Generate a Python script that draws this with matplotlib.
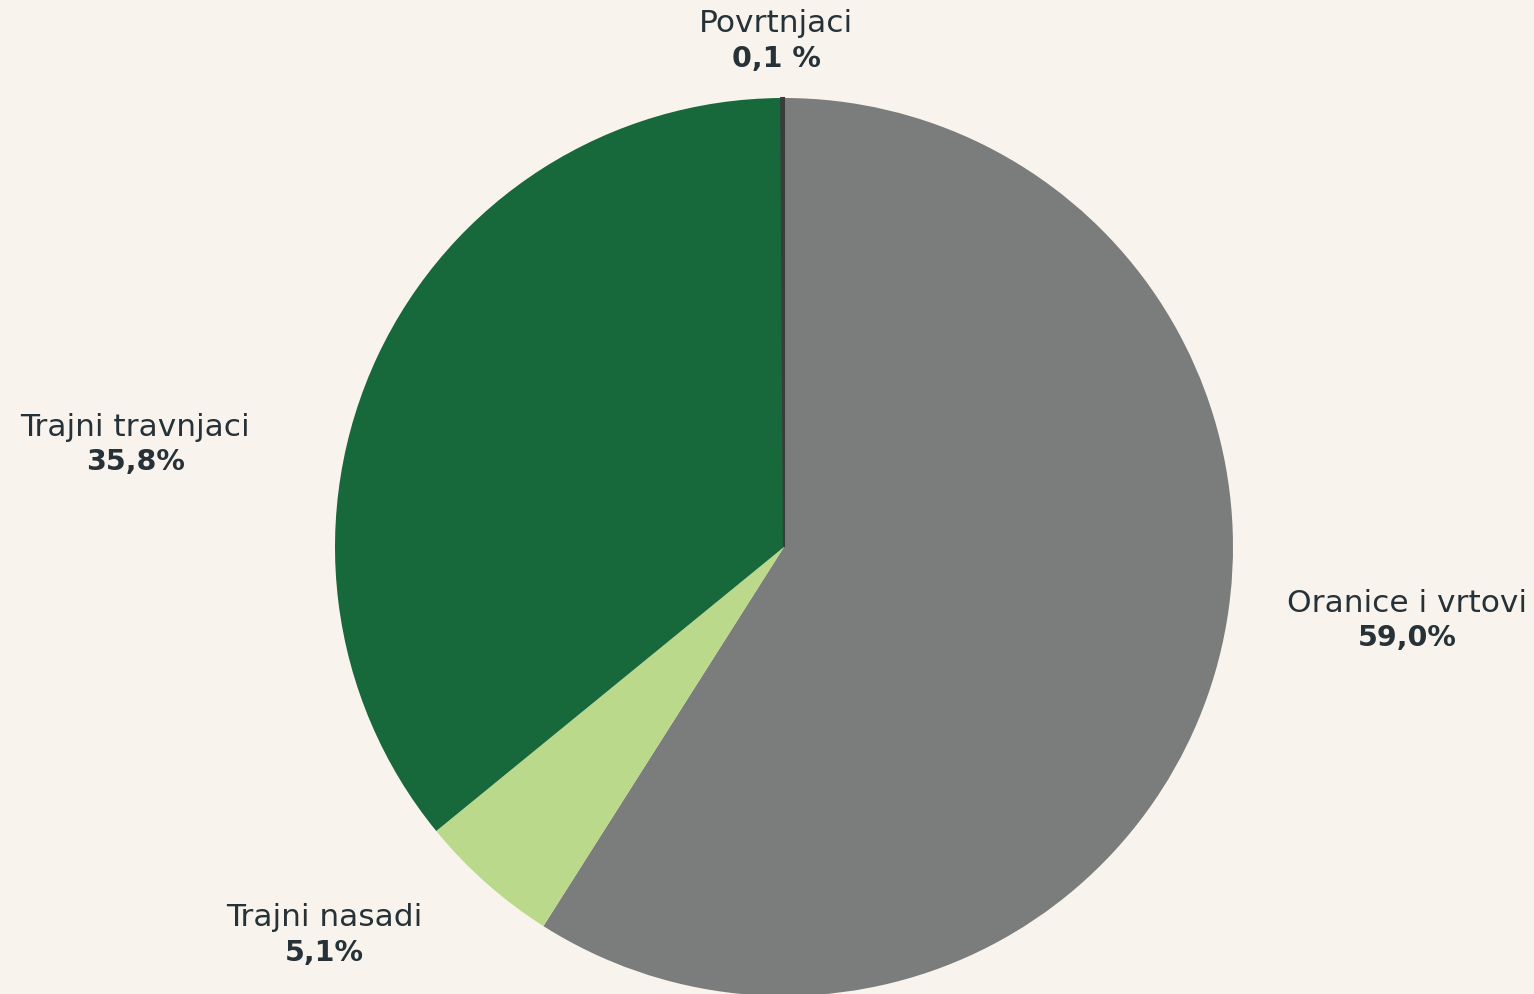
import matplotlib.pyplot as plt

# data
categories = ["Oranice i vrtovi", "Trajni nasadi", "Trajni travnjaci", "Povrtnjaci"]
shares = [59.0, 5.1, 35.8, 0.1]
value_labels = ["59,0%", "5,1%", "35,8%", "0,1 %"]
colors = ["#7b7d7d", "#bbd98a", "#17683a", "#3b3b3b"]

BG = "#f8f4ed"
TXT = "#263238"

plt.rcParams["font.family"] = ["DejaVu Sans"]

W, H = 1534, 994
fig = plt.figure(figsize=(W / 100, H / 100), dpi=100, facecolor=BG)
ax = fig.add_axes([0, 0, 1, 1])
ax.set_facecolor(BG)

wedges, _ = ax.pie(shares, colors=colors, startangle=90, counterclock=False,
                   center=(784, H - 547), radius=449,
                   wedgeprops=dict(linewidth=0))
# the tiny slice gets a thin outline so it stays visible
wedges[-1].set_edgecolor(colors[-1])
wedges[-1].set_linewidth(1.5)
ax.set_xlim(0, W)
ax.set_ylim(0, H)
ax.set_aspect("equal")
ax.axis("off")

# label anchor positions (pixels from top-left)
label_pos = [(1407, 603), (324, 918), (135, 427), (776, 24)]
for name, val, (x, y) in zip(categories, value_labels, label_pos):
    ax.text(x, H - y, name, ha="center", va="center", fontsize=22.5, color=TXT)
    ax.text(x, H - y - 35, val, ha="center", va="center", fontsize=20.5,
            fontweight="bold", color=TXT)

fig.savefig("out.png", dpi=100, facecolor=BG)
